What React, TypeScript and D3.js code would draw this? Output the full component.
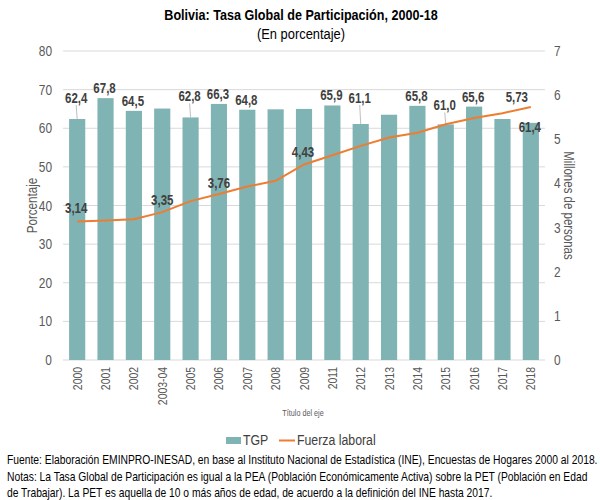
import React from "react";
import * as d3 from "d3";

const categories = ["2000","2001","2002","2003-04","2005","2006","2007","2008","2009","2011","2012","2013","2014","2015","2016","2017","2018"];
const tgp = [62.4,67.8,64.5,65.1,62.8,66.3,64.8,64.9,65.0,65.9,61.1,63.5,65.8,61.0,65.6,62.4,61.4];
const fuerza = [3.14,3.16,3.19,3.35,3.60,3.76,3.93,4.06,4.43,4.64,4.85,5.04,5.15,5.34,5.48,5.59,5.73];
const leftTicks = [0,10,20,30,40,50,60,70,80];
const rightTicks = [0,1,2,3,4,5,6,7];
const footerLines = [
  "Fuente: Elaboración EMINPRO-INESAD, en base al Instituto Nacional de Estadística (INE), Encuestas de Hogares 2000 al 2018.",
  "Notas: La Tasa Global de Participación es igual a la PEA (Población Económicamente Activa) sobre la PET (Población en Edad",
  "de Trabajar). La PET es aquella de 10 o más años de edad, de acuerdo a la definición del INE hasta 2017.",
];
// label layout config
const tgpLabelOffsets: Record<string, number> = {
  "2000": -16, "2001": -5, "2002": -5, "2005": -16, "2006": -5, "2007": -5,
  "2011": -5, "2012": -21, "2014": -5, "2015": -14, "2016": -5, "2018": 9,
};
const lineLabelOffsets: Record<string, [number, number]> = {
  "2000": [-1, -8], "2003-04": [0, -7], "2006": [0, -6], "2009": [-1, -7], "2018": [-14, -5],
};
const leaderLines = ["2000", "2005", "2012", "2015"];
const footerWidths = [591, 583, 486];

const fmt = (v: number, d: number) => v.toFixed(d).replace(".", ",");

const FONT = "'Liberation Sans', Arial, sans-serif";

function measure(s: string, size: number): number {
  try {
    const ctx = document.createElement("canvas").getContext("2d");
    if (!ctx) return s.length * size * 0.5;
    ctx.font = `${size}px ${FONT}`;
    return ctx.measureText(s).width;
  } catch {
    return s.length * size * 0.5;
  }
}

function T({ x, y, rot = 0, sx = 0.82, children, ...rest }: any) {
  return (
    <text transform={`translate(${x},${y}) rotate(${rot}) scale(${sx},1)`} {...rest}>
      {children}
    </text>
  );
}

export default function App() {
  const W = 600, H = 500;
  const x0 = 63, x1 = 545, yTop = 51, yBot = 360;
  const x = d3.scaleBand<string>().domain(categories).range([x0, x1]).paddingInner(0.43).paddingOuter(0.215);
  const yL = d3.scaleLinear().domain([0, 80]).range([yBot, yTop]);
  const yR = d3.scaleLinear().domain([0, 7]).range([yBot, yTop]);
  const cx = (c: string) => (x(c) as number) + x.bandwidth() / 2;
  const line = d3.line<number>().x((_, i) => cx(categories[i])).y((d) => yR(d));
  const labelColor = "#404040";
  const tickColor = "#595959";

  return (
    <svg width={W} height={H} style={{ position: "absolute", left: 0, top: 0, background: "#fff" }} fontFamily={FONT}>
      <T x={301} y={20} sx={0.84} textAnchor="middle" fontSize={15} fontWeight="bold" fill="#000">
        Bolivia: Tasa Global de Participación, 2000-18
      </T>
      <T x={301} y={39} sx={0.86} textAnchor="middle" fontSize={15} fill="#000">(En porcentaje)</T>

      {leftTicks.map((t) => (
        <g key={"g" + t}>
          <line x1={x0} x2={x1} y1={yL(t)} y2={yL(t)} stroke="#D9D9D9" strokeWidth={1} />
          <T x={52} y={yL(t) + 5} sx={0.85} textAnchor="end" fontSize={14} fill={tickColor}>{t}</T>
        </g>
      ))}
      {rightTicks.map((t) => (
        <T key={"r" + t} x={554} y={yR(t) + 5} sx={0.85} textAnchor="start" fontSize={14} fill={tickColor}>{t}</T>
      ))}

      {categories.map((c, i) => (
        <rect key={"b" + c} x={x(c)} y={yL(tgp[i])} width={x.bandwidth()} height={yBot - yL(tgp[i])} fill="#80B3B3" />
      ))}

      {leaderLines.map((c) => {
        const i = categories.indexOf(c);
        const top = yL(tgp[i]);
        const base = top + tgpLabelOffsets[c];
        return <line key={"l" + c} x1={cx(c) - 1} y1={base + 2} x2={cx(c)} y2={top} stroke="#BFBFBF" strokeWidth={1} />;
      })}

      <path d={line(fuerza) as string} fill="none" stroke="#ED7D31" strokeWidth={2} />

      {categories.map((c, i) =>
        tgpLabelOffsets[c] !== undefined ? (
          <T key={"tl" + c} x={cx(c) - 1} y={yL(tgp[i]) + tgpLabelOffsets[c]} textAnchor="middle" fontSize={14} fontWeight="bold" fill={labelColor}>
            {fmt(tgp[i], 1)}
          </T>
        ) : null
      )}
      {categories.map((c, i) =>
        lineLabelOffsets[c] ? (
          <T key={"ll" + c} x={cx(c) + lineLabelOffsets[c][0]} y={yR(fuerza[i]) + lineLabelOffsets[c][1]} textAnchor="middle" fontSize={14} fontWeight="bold" fill={labelColor}>
            {fmt(fuerza[i], 2)}
          </T>
        ) : null
      )}

      {categories.map((c) => (
        <T key={"x" + c} x={cx(c) + 4.5} y={367} rot={-90} sx={0.8} textAnchor="end" fontSize={13} fill={tickColor}>
          {c}
        </T>
      ))}

      <T x={37} y={205.5} rot={-90} sx={0.83} textAnchor="middle" fontSize={14} fill={tickColor}>Porcentaje</T>
      <T x={564} y={205.5} rot={90} sx={0.82} textAnchor="middle" fontSize={14} fill={tickColor}>Millones de personas</T>
      <T x={303} y={416} sx={0.85} textAnchor="middle" fontSize={8.5} fill={tickColor}>Título del eje</T>

      <rect x={226} y={437} width={15} height={7} fill="#80B3B3" />
      <T x={243} y={445} sx={0.85} fontSize={14.5} fill={labelColor}>TGP</T>
      <line x1={279} x2={295} y1={440.5} y2={440.5} stroke="#ED7D31" strokeWidth={2} />
      <T x={297} y={445} sx={0.85} fontSize={14.5} fill={labelColor}>Fuerza laboral</T>

      {footerLines.map((s, i) => (
        <T key={"f" + i} x={7} y={464 + i * 16.5} sx={footerWidths[i] / measure(s, 12.5)} fontSize={12.5} fill="#000">
          {s}
        </T>
      ))}
    </svg>
  );
}
